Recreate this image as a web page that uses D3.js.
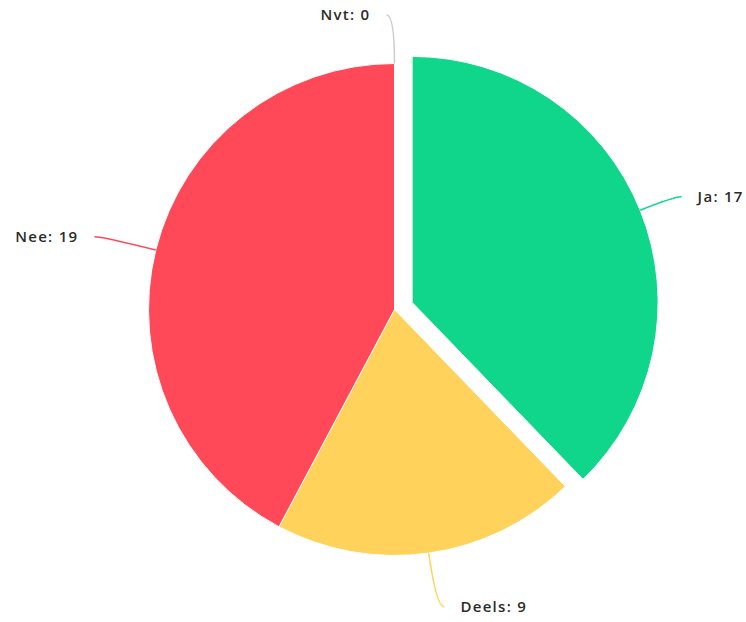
<!DOCTYPE html>
<html>
<head>
<meta charset="utf-8">
<script src="https://cdn.jsdelivr.net/npm/d3@7"></script>
<style>
  body { margin: 0; background: #fff; }
  text { font-family: "Open Sans", sans-serif; font-size: 15px; font-weight: 600; fill: #2b2b2b; letter-spacing: 1.3px; }
</style>
</head>
<body>
<div id="chart"></div>
<script>
  // answers
  var categories = ["Ja", "Deels", "Nee", "Nvt"],
      values = [17, 9, 19, 0],
      colors = ["#10d68b", "#ffd25b", "#ff4858", "#cccccc"],
      sliced = ["Ja"];

  var width = 746,
      height = 622,
      cx = 394.5,
      cy = 309.5,
      radius = 246,
      slicedOffset = 19,
      labelDistance = 55,
      crook = 8,
      textGap = 16,
      edgePad = 15;

  var data = categories.map(function(c, i){
    return {name: c, value: values[i], color: colors[i]};
  });

  var svg = d3.select("#chart")
    .append("svg")
    .attr("width", width)
    .attr("height", height);

  var pie = d3.pie()
    .sort(null)
    .value(function(d){ return d.value; });

  var arc = d3.arc()
    .innerRadius(0)
    .outerRadius(radius);

  var arcs = pie(data);

  // shift of a sliced wedge along its bisector
  function offset(d){
    if (sliced.indexOf(d.data.name) < 0) return [0, 0];
    var a = (d.startAngle + d.endAngle) / 2;
    return [Math.sin(a) * slicedOffset, -Math.cos(a) * slicedOffset];
  }

  var g = svg.append("g")
    .attr("transform", "translate(" + cx + "," + cy + ")");

  g.selectAll(".slice")
    .data(arcs)
    .enter()
    .append("path")
    .attr("class", "slice")
    .attr("d", arc)
    .attr("transform", function(d){
      var o = offset(d);
      return "translate(" + o[0] + "," + o[1] + ")";
    })
    .style("fill", function(d){ return d.data.color; })
    .style("stroke", "#fff")
    .style("stroke-width", 1);

  // connectors + labels (labels sit around the unsliced pie,
  // connectors start at the edge of the (maybe sliced) wedge)
  var labels = g.selectAll(".label")
    .data(arcs)
    .enter()
    .append("g")
    .attr("class", "label");

  function geom(d){
    var a = (d.startAngle + d.endAngle) / 2,
        o = offset(d),
        sx = Math.sin(a), sy = -Math.cos(a),
        m = a % (2 * Math.PI),
        side = (m > 1e-6 && m < Math.PI) ? 1 : -1;
    var p0 = [o[0] + sx * radius, o[1] + sy * radius],
        ly = sy * (radius + labelDistance);
    // keep labels inside the drawing area
    ly = Math.max(edgePad - cy, Math.min(height - edgePad - cy, ly));
    var p1 = [sx * (radius + labelDistance), ly],
        p2 = [p1[0] + side * crook, p1[1]];
    return {p0: p0, p1: p1, p2: p2, side: side};
  }

  labels.append("path")
    .attr("d", function(d){
      var q = geom(d);
      return "M" + q.p0 + "Q" + q.p1 + " " + q.p2;
    })
    .style("fill", "none")
    .style("stroke", function(d){ return d.data.color; })
    .style("stroke-width", 1.5);

  labels.append("text")
    .attr("x", function(d){ var q = geom(d); return q.p2[0] + q.side * textGap; })
    .attr("y", function(d){ return geom(d).p2[1]; })
    .attr("dy", "0.35em")
    .attr("text-anchor", function(d){ return geom(d).side > 0 ? "start" : "end"; })
    .text(function(d){ return d.data.name + ": " + d.data.value; });
</script>
</body>
</html>
